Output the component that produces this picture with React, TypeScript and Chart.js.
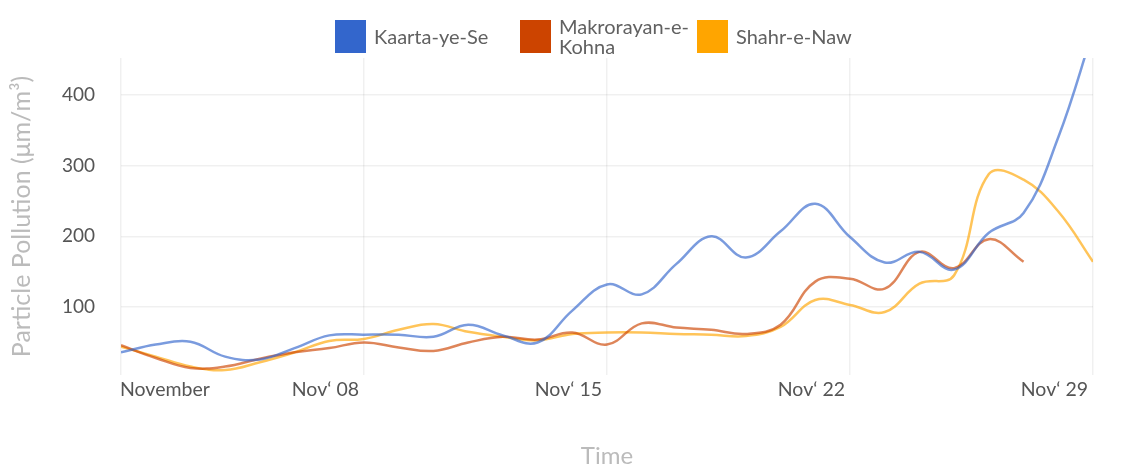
import React, { useEffect, useRef } from 'react';
import { Chart, registerables } from 'chart.js';

Chart.register(...registerables);

const days = [1, 2, 3, 4, 5, 6, 7, 8, 9, 10, 11, 12, 13, 14, 15, 16, 17, 18, 19, 20, 21, 22, 23, 24, 25, 26, 27, 28, 29];
const kaartaYeSe = [36, 47, 51, 30, 26, 42, 60, 61, 61, 58, 75, 60, 50, 95, 132, 118, 161, 200, 170, 207, 246, 199, 163, 178, 153, 205, 233, 340, 490];
const makrorayanEKohna = [46, 28, 14, 16, 27, 36, 42, 50, 43, 38, 50, 58, 54, 64, 47, 77, 71, 68, 62, 75, 136, 140, 126, 178, 155, 196, 164];
const shahrENaw = [44, 30, 16, 11, 22, 36, 52, 55, 68, 76, 65, 58, 53, 62, 64, 64, 62, 61, 59, 72, 110, 103, 93, 133, 145, 288, 280, 235, 164];

const seriesNames = ['Kaarta-ye-Se', 'Makrorayan-e-Kohna', 'Shahr-e-Naw'];
const solidColors = ['#3366cc', '#cc4400', '#ffa500'];
const lineColors = ['rgba(51,102,204,0.65)', 'rgba(204,68,0,0.65)', 'rgba(255,165,0,0.65)'];

const xTickValues = [1, 8, 15, 22, 29];
const xTickLabels = ['November', 'Nov\u2018 08', 'Nov\u2018 15', 'Nov\u2018 22', 'Nov\u2018 29'];
const yTickValues = [100, 200, 300, 400];

const xTitle = 'Time';
const yTitle = 'Particle Pollution (\u03bcm/m\u00b3)';

const FONT = 'Lato';
const legendItemWidths = [185, 177, 180];
const legendTextWidths = [140, 132, 140];

function toPoints(values: number[]) {
  return values.map((v, i) => ({ x: days[i], y: v }));
}

const overlayX2 = {
  id: 'overlayX2',
  afterLayout(chart: any) {
    const a = chart.scales.x;
    const b = chart.scales.x2;
    if (a && b) {
      b.top = a.top;
      b.bottom = a.bottom;
      b.height = a.bottom - a.top;
    }
  },
};

export default function App() {
  const ref = useRef<HTMLCanvasElement | null>(null);

  useEffect(() => {
    if (!ref.current) return;
    const seriesValues = [kaartaYeSe, makrorayanEKohna, shahrENaw];
    const gridOpts = { color: 'rgba(0,0,0,0.06)', lineWidth: 1.5, drawTicks: false };
    const chart = new Chart(ref.current, {
      type: 'line',
      data: {
        datasets: seriesValues.map((vals, i) => ({
          label: seriesNames[i],
          data: toPoints(vals),
          borderColor: lineColors[i],
          backgroundColor: solidColors[i],
          borderWidth: 2.5,
          pointRadius: 0,
          tension: 0.4,
          fill: false,
        })),
      },
      plugins: [overlayX2],
      options: {
        animation: false,
        responsive: true,
        maintainAspectRatio: false,
        layout: { padding: { top: 58, right: 29, bottom: 0, left: 0 } },
        plugins: {
          tooltip: { enabled: false },
          legend: { display: false },
        },
        scales: {
          x: {
            type: 'linear',
            min: days[0],
            max: days[days.length - 1],
            weight: 1,
            afterBuildTicks: (s: any) => {
              s.ticks = xTickValues.slice(1).map((v) => ({ value: v }));
            },
            afterFit: (s: any) => {
              s.height = 97;
            },
            grid: gridOpts,
            border: { display: false },
            ticks: {
              autoSkip: false,
              maxRotation: 0,
              align: 'end',
              labelOffset: -5,
              padding: 3,
              color: '#555',
              font: { family: FONT, size: 19.5 },
              callback: (v: any) => {
                const idx = xTickValues.indexOf(Number(v));
                return idx >= 0 ? xTickLabels[idx] : '';
              },
            },
            title: {
              display: true,
              text: xTitle,
              color: '#bbb',
              font: { family: FONT, size: 24 },
              padding: { top: 0, bottom: 1 },
            },
          },
          x2: {
            type: 'linear',
            position: 'bottom',
            min: days[0],
            max: days[days.length - 1],
            weight: 0,
            afterBuildTicks: (s: any) => {
              s.ticks = [{ value: xTickValues[0] }];
            },
            afterFit: (s: any) => {
              s.height = 0;
            },
            grid: gridOpts,
            border: { display: false },
            ticks: {
              autoSkip: false,
              maxRotation: 0,
              align: 'start',
              labelOffset: -1,
              padding: 3,
              color: '#555',
              font: { family: FONT, size: 19.5 },
              callback: () => xTickLabels[0],
            },
          },
          y: {
            type: 'linear',
            min: 4,
            max: 452,
            afterBuildTicks: (s: any) => {
              s.ticks = yTickValues.map((v) => ({ value: v }));
            },
            afterFit: (s: any) => {
              s.width = 121;
            },
            grid: gridOpts,
            border: { display: false },
            ticks: {
              padding: 26,
              color: '#555',
              font: { family: FONT, size: 19 },
            },
            title: {
              display: true,
              text: yTitle,
              color: '#bbb',
              font: { family: FONT, size: 25 },
              padding: { top: 7, bottom: 0 },
            },
          },
        },
      },
    });
    return () => chart.destroy();
  }, []);

  return (
    <div style={{ position: 'absolute', left: 0, top: 0, width: 1122, height: 472, overflow: 'hidden', background: '#fff' }}>
      <div style={{ position: 'absolute', left: 0, top: 0, width: 1122, height: 472 }}>
        <canvas ref={ref} />
      </div>
      <div
        style={{
          position: 'absolute',
          left: 335,
          top: 16,
          display: 'flex',
          alignItems: 'center',
          fontFamily: FONT,
          fontSize: 20,
          lineHeight: '20px',
          color: '#616161',
        }}
      >
        {seriesNames.map((name, i) => (
          <div key={name} style={{ display: 'flex', alignItems: 'center', width: legendItemWidths[i] }}>
            <div style={{ width: 31, height: 33, background: solidColors[i], flex: 'none' }} />
            <div style={{ marginLeft: 8, maxWidth: legendTextWidths[i] }}>{name}</div>
          </div>
        ))}
      </div>
    </div>
  );
}
